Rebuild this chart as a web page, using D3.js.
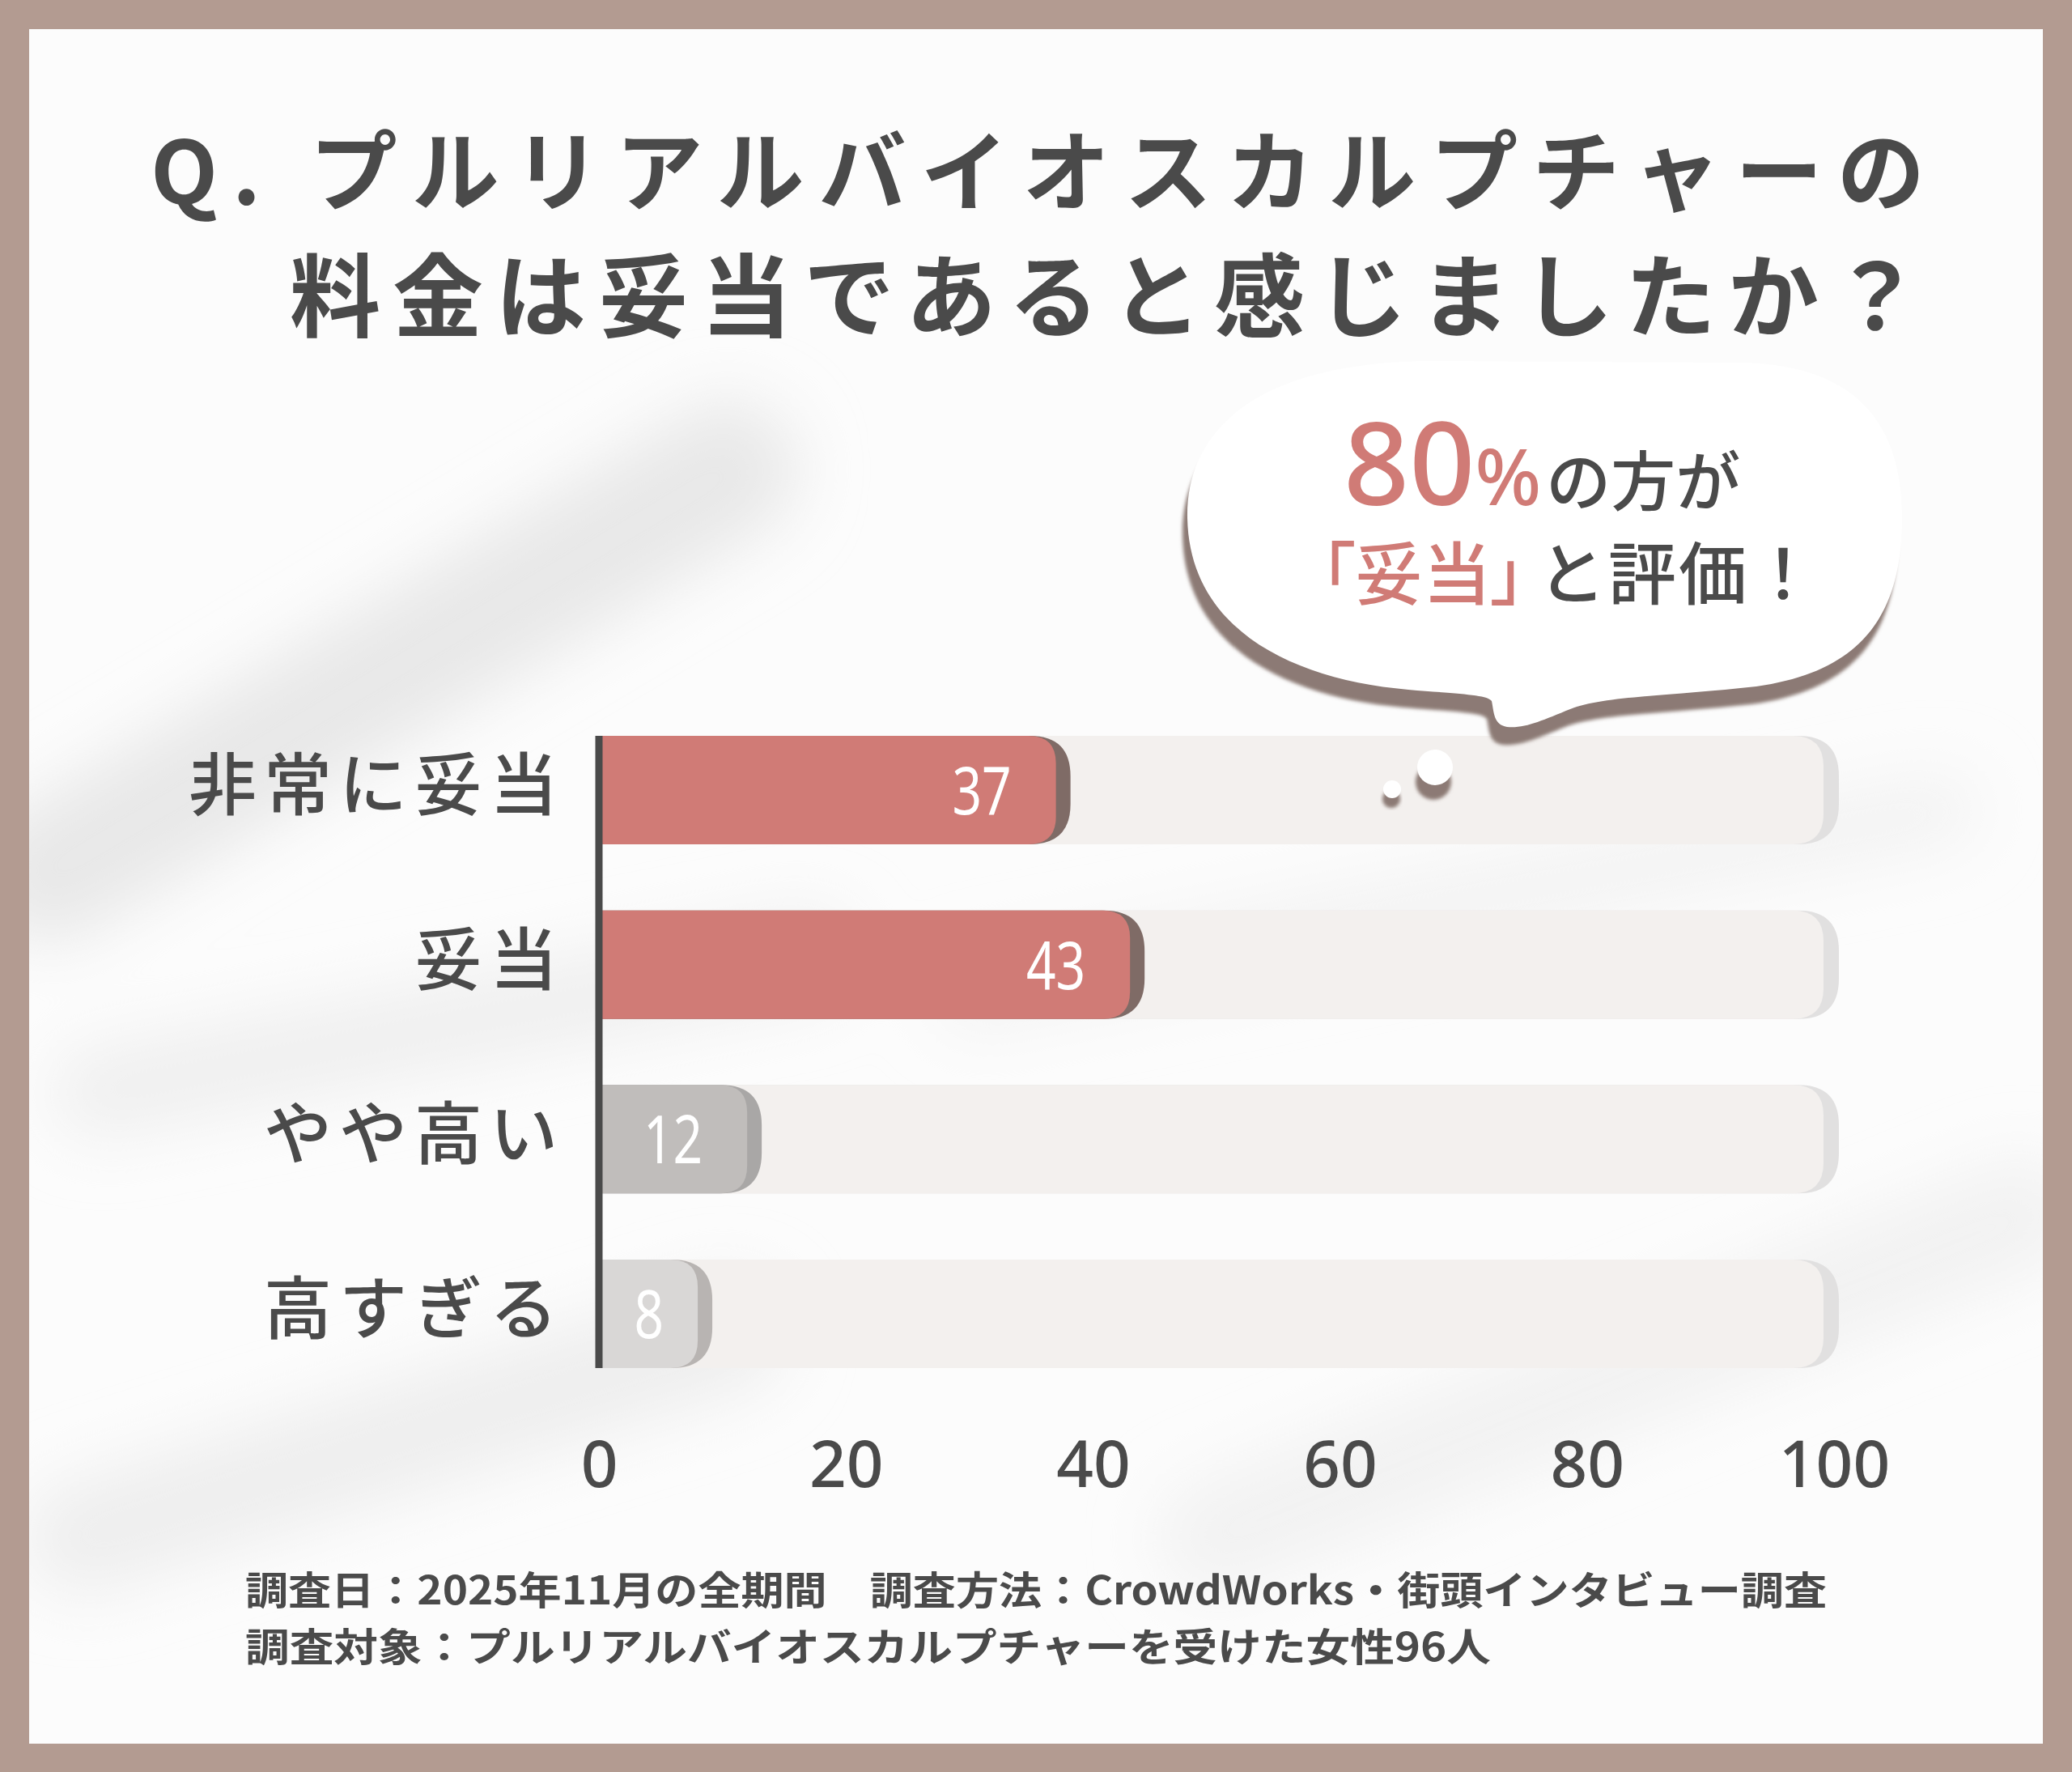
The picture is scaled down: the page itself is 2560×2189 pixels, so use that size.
<!DOCTYPE html>
<html><head><meta charset="utf-8">
<script src="https://cdn.jsdelivr.net/npm/d3@7"></script>
<style>html,body{margin:0;padding:0;background:#b39b91;}svg{display:block;}</style>
</head><body>
<script>
// ---- data ----
const categories = ["非常に妥当", "妥当", "やや高い", "高すぎる"];
const values = [37, 43, 12, 8];
const tickValues = [0, 20, 40, 60, 80, 100];
const titleLines = ["Q. プルリアルバイオスカルプチャーの", "料金は妥当であると感じましたか？"];
const footerLines = ["調査日：2025年11月の全期間　調査方法：CrowdWorks・街頭インタビュー調査", "調査対象：プルリアルバイオスカルプチャーを受けた女性96人"];
const fillColors = ["#d07b76", "#d07b76", "#c0bdbb", "#d9d7d6"];
const shadowColors = ["#7f6b66", "#7f6b66", "#a9a7a6", "#b8b4b2"];

const W = 2560, H = 2189;
const dark = "#4a4a4a";
const svg = d3.select("body").append("svg").attr("width", W).attr("height", H);
const defs = svg.append("defs");
defs.append("filter").attr("id", "blur").attr("x", "-50%").attr("y", "-50%").attr("width", "200%").attr("height", "200%")
  .append("feGaussianBlur").attr("stdDeviation", 40);
defs.append("filter").attr("id", "soft").append("feGaussianBlur").attr("stdDeviation", 2);

// frame + panel
svg.append("rect").attr("width", W).attr("height", H).attr("fill", "#b39b91");
svg.append("rect").attr("x", 36).attr("y", 36).attr("width", W - 72).attr("height", H - 71).attr("fill", "#fcfcfc");
const clip = defs.append("clipPath").attr("id", "panel");
clip.append("rect").attr("x", 36).attr("y", 36).attr("width", W - 72).attr("height", H - 71);
const bg = svg.append("g").attr("clip-path", "url(#panel)").attr("filter", "url(#blur)");
bg.append("path").attr("d", "M 60 1080 L 900 580").attr("stroke", "#e8e8e8").attr("stroke-width", 170).attr("stroke-linecap", "round").attr("fill", "none");
bg.append("path").attr("d", "M 120 1350 L 1000 1180").attr("stroke", "#efefef").attr("stroke-width", 110).attr("stroke-linecap", "round").attr("fill", "none");
bg.append("path").attr("d", "M 100 1900 L 900 1650").attr("stroke", "#eeeeee").attr("stroke-width", 140).attr("stroke-linecap", "round").attr("fill", "none");
bg.append("path").attr("d", "M 1500 1900 L 2500 1500").attr("stroke", "#f2f2f2").attr("stroke-width", 140).attr("stroke-linecap", "round").attr("fill", "none");
bg.append("path").attr("d", "M 1200 1230 L 2400 1000").attr("stroke", "#f3f3f3").attr("stroke-width", 90).attr("stroke-linecap", "round").attr("fill", "none");

// ---- title ----
const tf = "'Noto Sans CJK JP', sans-serif";
svg.append("text").attr("x", 186).attr("y", 252).attr("font-family", tf).attr("font-weight", 700)
  .attr("font-size", 108).attr("fill", dark).attr("textLength", 2192).attr("lengthAdjust", "spacing").text(titleLines[0]);
svg.append("text").attr("x", 358).attr("y", 408).attr("font-family", tf).attr("font-weight", 700)
  .attr("font-size", 112).attr("fill", dark).attr("textLength", 2016).attr("lengthAdjust", "spacing").text(titleLines[1]);

// ---- scales ----
const x = d3.scaleLinear().domain([0, 100]).range([740, 2266]);
const y = d3.scaleBand().domain(categories).range([909, 1690]).paddingInner(0.379).paddingOuter(0);
const bw = y.bandwidth();

function rightRounded(x0, x1, yt, h, r) {
  r = Math.min(r, (x1 - x0), h / 2);
  return `M${x0},${yt} L${x1 - r},${yt} Q${x1},${yt} ${x1},${yt + r} L${x1},${yt + h - r} Q${x1},${yt + h} ${x1 - r},${yt + h} L${x0},${yt + h} Z`;
}

// tracks
const tracks = svg.append("g");
categories.forEach(c => {
  tracks.append("path").attr("d", rightRounded(x(0), x(100) + 6, y(c), bw, 50)).attr("fill", "#e1e0e0");
  tracks.append("path").attr("d", rightRounded(x(0), x(100) - 13, y(c), bw, 38)).attr("fill", "#f3f0ee");
});

// bars
const bars = svg.append("g");
categories.forEach((c, i) => {
  const v = values[i];
  bars.append("path").attr("d", rightRounded(x(0), x(v) + 18, y(c), bw, 50)).attr("fill", shadowColors[i]);
  bars.append("path").attr("d", rightRounded(x(0), x(v), y(c), bw, 34)).attr("fill", fillColors[i]);
  bars.append("text")
    .attr("transform", `translate(${x(v) - (v < 10 ? 42 : 55)},${y(c) + bw / 2 + 30}) scale(0.78,1)`)
    .attr("text-anchor", "end").attr("font-family", "'Noto Sans', sans-serif").attr("font-weight", 400)
    .attr("font-size", 82).attr("fill", "#ffffff").text(v);
});

// category labels
svg.append("g").selectAll("text").data(categories).join("text")
  .attr("x", 698).attr("y", c => y(c) + bw / 2 + 24)
  .attr("text-anchor", "end").attr("font-family", tf).attr("font-weight", 500)
  .attr("font-size", 84).attr("letter-spacing", 9).attr("fill", dark).text(c => c);

// axis line
svg.append("line").attr("x1", x(0)).attr("x2", x(0)).attr("y1", y(categories[0])).attr("y2", y(categories[3]) + bw)
  .attr("stroke", dark).attr("stroke-width", 9);

// x axis ticks
const axis = d3.axisBottom(x).tickValues(tickValues).tickSize(0).tickPadding(0);
const ax = svg.append("g").attr("transform", "translate(0,1837)").call(axis);
ax.select(".domain").remove();
ax.selectAll("text").attr("dy", 0).attr("y", 0).attr("font-family", "'Noto Sans', sans-serif").attr("font-weight", 500)
  .attr("font-size", 80).attr("fill", dark);

// ---- speech bubble ----
const bubble = "M 1467 640 C 1465 540, 1540 450, 1760 446 L 2150 448 C 2290 450, 2350 520, 2350 640 C 2350 760, 2300 830, 2170 848 C 2060 860, 1980 860, 1940 876 C 1905 890, 1885 900, 1862 898 C 1845 895, 1846 880, 1843 866 C 1838 858, 1800 857, 1740 852 C 1600 840, 1470 780, 1467 640 Z";
const bub = svg.append("g");
bub.append("path").attr("d", bubble).attr("transform", "translate(-6,22)").attr("fill", "#8c7a74").attr("filter", "url(#soft)");
bub.append("path").attr("d", bubble).attr("fill", "#ffffff");
bub.append("circle").attr("cx", 1771).attr("cy", 966).attr("r", 22).attr("fill", "#8c7a74").attr("filter", "url(#soft)");
bub.append("circle").attr("cx", 1773).attr("cy", 948).attr("r", 22).attr("fill", "#ffffff");
bub.append("circle").attr("cx", 1719).attr("cy", 987).attr("r", 11).attr("fill", "#8c7a74").attr("filter", "url(#soft)");
bub.append("circle").attr("cx", 1720).attr("cy", 975).attr("r", 11).attr("fill", "#ffffff");

const red = "#d07b76";
const t1 = bub.append("text").attr("x", 1660).attr("y", 624).attr("font-family", "'Noto Sans', " + tf);
t1.append("tspan").attr("font-size", 142).attr("font-weight", 500).attr("fill", red).text("80");
t1.append("tspan").attr("font-size", 96).attr("font-weight", 500).attr("fill", red).text("%");
t1.append("tspan").attr("font-family", tf).attr("font-size", 80).attr("font-weight", 500).attr("fill", dark).attr("dx", 6).text("の方が");

bub.append("text").attr("x", 1884).attr("y", 740).attr("text-anchor", "end")
  .attr("font-family", tf).attr("font-weight", 500).attr("font-size", 84)
  .style("font-feature-settings", "'palt'").attr("fill", red).text("「妥当」");
bub.append("text").attr("x", 1900).attr("y", 740)
  .attr("font-family", tf).attr("font-weight", 500).attr("font-size", 84).attr("letter-spacing", 3)
  .attr("fill", dark).text("と評価！");

// ---- footer ----
svg.append("text").attr("x", 303).attr("y", 1982).attr("font-family", tf).attr("font-weight", 700)
  .attr("font-size", 48).attr("fill", dark).attr("textLength", 1954).attr("lengthAdjust", "spacingAndGlyphs").text(footerLines[0]);
svg.append("text").attr("x", 303).attr("y", 2052).attr("font-family", tf).attr("font-weight", 700)
  .attr("font-size", 48).attr("fill", dark).attr("textLength", 1539).attr("lengthAdjust", "spacingAndGlyphs").text(footerLines[1]);
</script>
</body></html>
